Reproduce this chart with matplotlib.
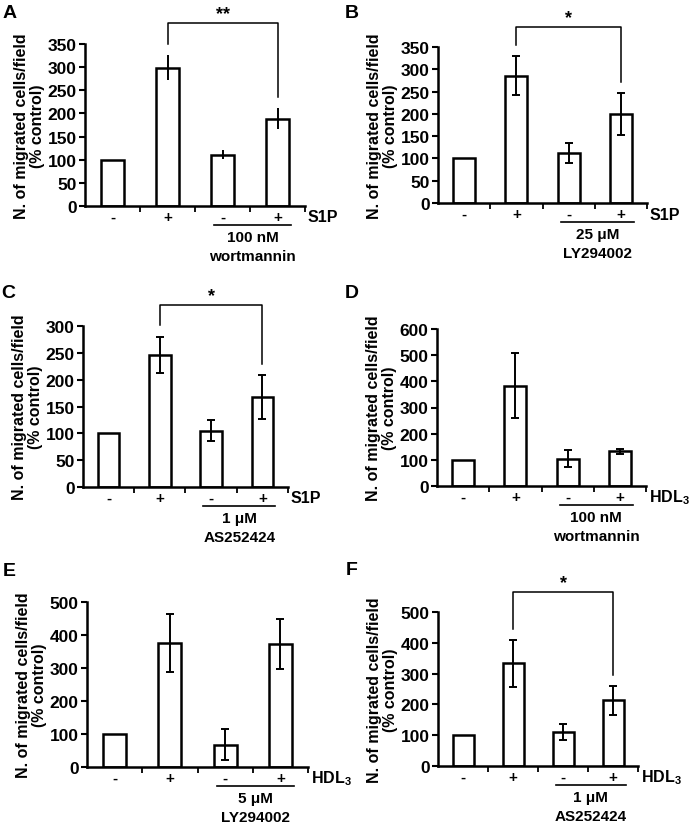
import matplotlib
matplotlib.use("Agg")
import matplotlib.pyplot as plt
import matplotlib.transforms as mtransforms

plt.rcParams['font.family'] = ['Liberation Sans', 'DejaVu Sans']
plt.rcParams['font.weight'] = 'bold'
plt.rcParams['mathtext.fontset'] = 'custom'
plt.rcParams['mathtext.rm'] = 'Liberation Sans:bold'
plt.rcParams['mathtext.bf'] = 'Liberation Sans:bold'

W, H = 692, 829

# data (% of control)
conditions = ["-", "+", "-", "+"]

a_mean = [100, 299, 111, 189]
a_err = [0, 27, 10, 23]
b_mean = [100, 286, 112, 199]
b_err = [0, 43, 22, 47]
c_mean = [100, 246, 105, 167]
c_err = [0, 34, 19, 41]
d_mean = [100, 384, 104, 133]
d_err = [0, 124, 32, 10]
e_mean = [100, 376, 68, 373]
e_err = [0, 87, 46, 77]
f_mean = [100, 333, 110, 214]
f_err = [0, 76, 27, 47]

letters = ["A", "B", "C", "D", "E", "F"]
stimulus = ["S1P", "S1P", "S1P", "HDL$_3$", "HDL$_3$", "HDL$_3$"]
inhibitors = ["100 nM\nwortmannin", "25 \u03bcM\nLY294002", "1 \u03bcM\nAS252424",
              "100 nM\nwortmannin", "5 \u03bcM\nLY294002", "1 \u03bcM\nAS252424"]
y_max = [350, 350, 300, 600, 500, 500]
y_step = [50, 50, 50, 100, 100, 100]
stars = ["**", "*", "*", None, None, "*"]
means = [a_mean, b_mean, c_mean, d_mean, e_mean, f_mean]
errs = [a_err, b_err, c_err, d_err, e_err, f_err]

# axes boxes in pixels: left, top, right, bottom
boxes = [(85, 45, 305, 207), (438, 48, 647, 204),
         (83, 327, 288, 488), (437, 330, 646, 487),
         (87, 603, 308, 768), (438, 613, 638, 767)]
letter_pos = [(10, 14), (352, 14), (8, 293), (352, 293), (9, 572), (352, 571)]

fig = plt.figure(figsize=(W / 100, H / 100), dpi=100)

for k in range(6):
    l, t, r, b = boxes[k]
    ax = fig.add_axes([l / W, 1 - b / H, (r - l) / W, (b - t) / H])
    x = range(len(conditions))
    ax.bar(x, means[k], width=0.42, color='white', edgecolor='black', linewidth=1.8, zorder=2)
    cap = 0 if k == 0 else 3
    for i in x:
        if errs[k][i] > 0:
            ax.errorbar(i, means[k][i], yerr=errs[k][i], fmt='none', ecolor='black',
                        elinewidth=1.4, capsize=cap, capthick=1.4, zorder=3)

    ax.set_xlim(-0.5, 3.5)
    ax.set_ylim(0, y_max[k])
    ax.set_yticks(range(0, y_max[k] + 1, y_step[k]))
    ax.set_xticks(list(x))
    ax.set_xticklabels(conditions, fontsize=11, fontweight='bold')
    ax.set_xticks([0.5, 1.5, 2.5, 3.5], minor=True)
    ax.tick_params(axis='x', which='major', length=0, pad=3)
    ax.tick_params(axis='x', which='minor', length=4, width=1.3, direction='out')
    ax.tick_params(axis='y', length=4, width=1.5, direction='out', labelsize=12.5, pad=2)
    for lab in ax.get_yticklabels():
        lab.set_fontweight('bold')
    for s in ['top', 'right']:
        ax.spines[s].set_visible(False)
    for s in ['left', 'bottom']:
        ax.spines[s].set_linewidth(1.8)

    ax.set_ylabel("N. of migrated cells/field\n(% control)", fontsize=11.5,
                  fontweight='bold', linespacing=1.1)
    ax.yaxis.set_label_coords(-40 / (r - l), 0.5)

    trans = mtransforms.blended_transform_factory(ax.transData, ax.transAxes)
    line_tr = mtransforms.offset_copy(trans, fig=fig, y=-19, units='dots')
    ax.plot([1.85, 3.25], [0, 0], transform=line_tr, color='black', lw=1.2, clip_on=False)
    txt_tr = mtransforms.offset_copy(trans, fig=fig, y=-24, units='dots')
    ax.text(2.55, 0, inhibitors[k], transform=txt_tr, ha='center', va='top',
            fontsize=11, fontweight='bold', linespacing=1.45)
    stim_tr = mtransforms.offset_copy(ax.transAxes, fig=fig, x=3, y=-11, units='dots')
    ax.text(1.0, 0, stimulus[k], transform=stim_tr, ha='left', va='center',
            fontsize=11.5, fontweight='bold')

    if stars[k]:
        ym = y_max[k]
        top = ym * 1.13
        left_end = means[k][1] + errs[k][1] + 0.07 * ym
        right_end = means[k][3] + errs[k][3] + 0.07 * ym
        ax.plot([1, 1, 3, 3], [left_end, top, top, right_end], color='black',
                lw=1.1, clip_on=False)
        ax.text(2, top + 0.005 * ym, stars[k], ha='center', va='bottom',
                fontsize=13, fontweight='bold', clip_on=False)

    fig.text(letter_pos[k][0] / W, 1 - letter_pos[k][1] / H, letters[k],
             ha='center', va='center', fontsize=14, fontweight='bold')

fig.savefig("out.png", dpi=100)
